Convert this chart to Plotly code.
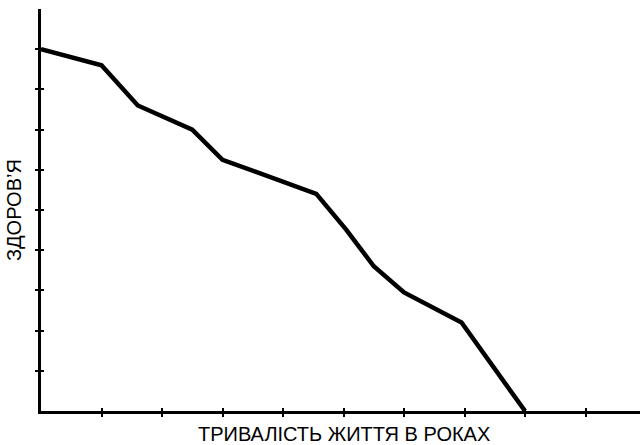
import plotly.graph_objects as go

# Data
years = [0, 1.0, 1.6, 2.5, 3.0, 4.55, 5.05, 5.5, 6.0, 6.95, 8.0]
health = [9.0, 8.6, 7.6, 7.0, 6.25, 5.4, 4.5, 3.6, 2.95, 2.2, 0]
x_ticks = [1, 2, 3, 4, 5, 6, 7, 8, 9]
y_ticks = [1, 2, 3, 4, 5, 6, 7, 8, 9]
x_title = "ТРИВАЛІСТЬ ЖИТТЯ В РОКАХ"
y_title = "ЗДОРОВ’Я"

XR = [0, 9.9]
YR = [0, 10]

fig = go.Figure()
fig.add_trace(go.Scatter(x=years, y=health, mode="lines",
                         line=dict(color="black", width=4.5, shape="linear"),
                         hoverinfo="skip", showlegend=False, cliponaxis=False))
# invisible trace for the overlay axes (inner tick halves)
fig.add_trace(go.Scatter(x=[XR[0]], y=[YR[0]], mode="markers", marker=dict(opacity=0),
                         xaxis="x2", yaxis="y2", showlegend=False, hoverinfo="skip"))

font = "Liberation Sans, Arial, sans-serif"
common = dict(showgrid=False, zeroline=False, showticklabels=False, automargin=False,
              tickwidth=1.5, tickcolor="black", ticklen=3)
fig.update_layout(
    width=640, height=445,
    margin=dict(l=41, r=0, t=9, b=34, autoexpand=False),
    paper_bgcolor="white", plot_bgcolor="white",
    font=dict(family=font, color="black"),
    xaxis=dict(range=XR, showline=True, linecolor="black", linewidth=3,
               ticks="outside", tickvals=x_ticks, **common),
    yaxis=dict(range=YR, showline=True, linecolor="black", linewidth=3,
               ticks="outside", tickvals=y_ticks, **common),
    xaxis2=dict(range=XR, overlaying="x", side="bottom", showline=False,
                ticks="inside", tickvals=x_ticks, **common),
    yaxis2=dict(range=YR, overlaying="y", side="left", showline=False,
                ticks="inside", tickvals=y_ticks, **common),
    annotations=[
        dict(text=x_title, xref="paper", yref="paper", x=0.506, y=-23 / 402,
             xanchor="center", yanchor="middle", showarrow=False,
             font=dict(size=20, family=font, color="black")),
        dict(text=y_title, xref="paper", yref="paper", x=-27 / 599, y=0.5,
             xanchor="center", yanchor="middle", textangle=-90, showarrow=False,
             font=dict(size=20, family=font, color="black")),
    ],
)

fig.write_html("out.html", config={"displayModeBar": False},
               post_script="document.body.style.margin='0';document.body.style.overflow='hidden';")
